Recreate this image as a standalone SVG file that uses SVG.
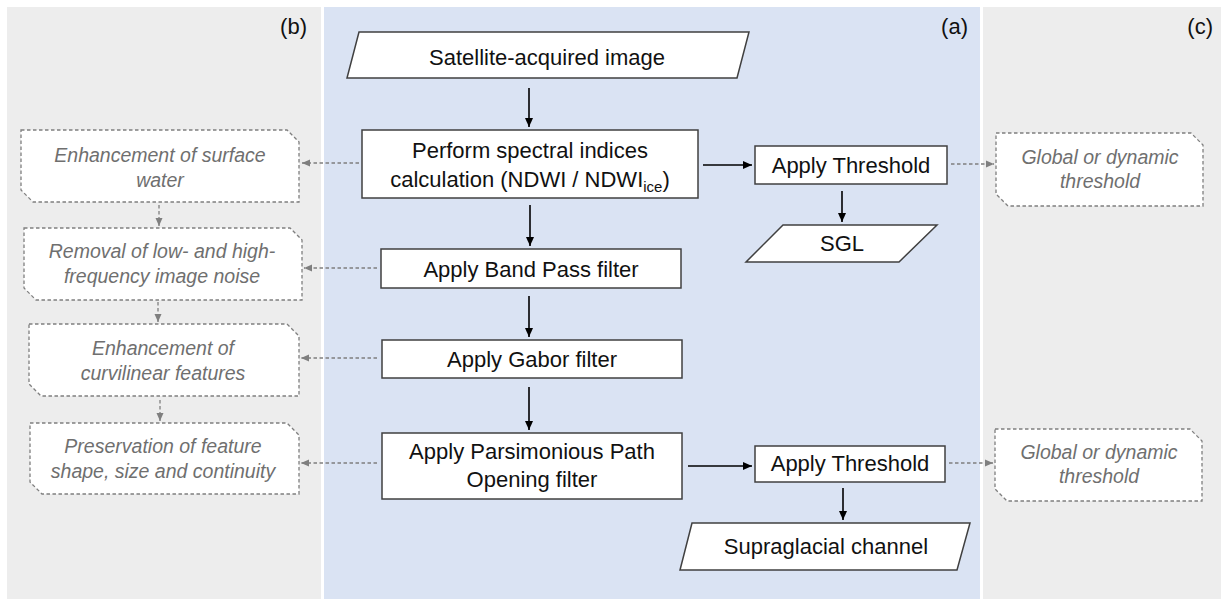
<svg xmlns="http://www.w3.org/2000/svg" width="1221" height="599" viewBox="0 0 1221 599">
<style>
.main{font-family:"Liberation Sans",Arial,sans-serif;font-size:22px;fill:#111;text-anchor:middle}
.note{font-family:"Liberation Sans",Arial,sans-serif;font-size:19.5px;font-style:italic;fill:#6f6f6f;text-anchor:middle}
.lab{font-family:"Liberation Sans",Arial,sans-serif;font-size:22px;fill:#111}
.box{fill:#fff;stroke:#404040;stroke-width:1.5}
.nbox{fill:#fff;stroke:#7f7f7f;stroke-width:1.3;stroke-dasharray:3.5 2.5}
.ar{stroke:#000;stroke-width:1.6;fill:none;marker-end:url(#ah)}
.da{stroke:#7f7f7f;stroke-width:1.3;stroke-dasharray:3.5 2.5;fill:none;marker-end:url(#dh)}
</style>
<defs>
<marker id="ah" markerUnits="userSpaceOnUse" markerWidth="10" markerHeight="10" viewBox="0 0 10 10" refX="9" refY="5" orient="auto"><path d="M0,1 L9,5 L0,9 Z" fill="#000"/></marker>
<marker id="dh" markerUnits="userSpaceOnUse" markerWidth="9" markerHeight="9" viewBox="0 0 9 9" refX="8" refY="4.5" orient="auto"><path d="M0,1 L8,4.5 L0,8 Z" fill="#7f7f7f"/></marker>
</defs>
<rect width="1221" height="599" fill="#fff"/>
<g id="panels">
<rect x="7" y="7" width="314" height="592" fill="#ededed"/>
<rect x="324" y="7" width="656" height="592" fill="#dae3f3"/>
<rect x="983" y="7" width="238" height="592" fill="#ededed"/>
<text class="lab" x="307" y="34" text-anchor="end">(b)</text>
<text class="lab" x="968" y="34" text-anchor="end">(a)</text>
<text class="lab" x="1213" y="34" text-anchor="end">(c)</text>
</g>
<g id="connectors">
<line class="ar" x1="529" y1="88" x2="529" y2="127"/>
<line class="ar" x1="530" y1="205" x2="530" y2="246"/>
<line class="ar" x1="529" y1="296" x2="529" y2="337"/>
<line class="ar" x1="529" y1="387" x2="529" y2="430"/>
<line class="ar" x1="703" y1="165" x2="752" y2="165"/>
<line class="ar" x1="842" y1="191" x2="842" y2="222"/>
<line class="ar" x1="688" y1="466" x2="752" y2="466"/>
<line class="ar" x1="843" y1="488" x2="843" y2="520"/>
<line class="da" x1="359" y1="163" x2="302" y2="163"/>
<line class="da" x1="377" y1="268" x2="304" y2="268"/>
<line class="da" x1="377" y1="358" x2="301" y2="358"/>
<line class="da" x1="377" y1="463" x2="301" y2="463"/>
<line class="da" x1="951" y1="164" x2="994" y2="164"/>
<line class="da" x1="949" y1="463" x2="993" y2="463"/>
<line class="da" x1="159" y1="205" x2="159" y2="226"/>
<line class="da" x1="158" y1="302" x2="158" y2="322"/>
<line class="da" x1="160" y1="400" x2="160" y2="421"/>
</g>
<g id="satellite">
<path class="box" d="M359,32 H749 L737,78 H347 Z"/>
<text class="main" x="547" y="65">Satellite-acquired image</text>
</g>
<g id="spectral">
<rect class="box" x="362" y="130" width="336" height="68"/>
<text class="main" x="530" y="158">Perform spectral indices</text>
<text class="main" x="530" y="187">calculation (NDWI / NDWI<tspan font-size="15" dy="5">ice</tspan><tspan dy="-5">)</tspan></text>
</g>
<g id="bandpass">
<rect class="box" x="381" y="249" width="300" height="39"/>
<text class="main" x="531" y="277">Apply Band Pass filter</text>
</g>
<g id="gabor">
<rect class="box" x="382" y="340" width="300" height="38"/>
<text class="main" x="532" y="367">Apply Gabor filter</text>
</g>
<g id="ppo">
<rect class="box" x="382" y="433" width="300" height="66"/>
<text class="main" x="532" y="459">Apply Parsimonious Path</text>
<text class="main" x="532" y="487">Opening filter</text>
</g>
<g id="threshold1">
<rect class="box" x="755" y="146" width="192" height="38"/>
<text class="main" x="851" y="173">Apply Threshold</text>
</g>
<g id="sgl">
<path class="box" d="M783,225 H937 L899,262 H746 Z"/>
<text class="main" x="842" y="251">SGL</text>
</g>
<g id="threshold2">
<rect class="box" x="755" y="446" width="190" height="36"/>
<text class="main" x="850" y="471">Apply Threshold</text>
</g>
<g id="channel">
<path class="box" d="M692,523 H970 L957,570 H680 Z"/>
<text class="main" x="826" y="554">Supraglacial channel</text>
</g>
<g id="note1">
<path class="nbox" d="M21,130 H287 L299,142 V202 H33 L21,190 Z"/>
<text class="note" x="160" y="162">Enhancement of surface</text>
<text class="note" x="160" y="187">water</text>
</g>
<g id="note2">
<path class="nbox" d="M24,228 H290 L302,240 V300 H36 L24,288 Z"/>
<text class="note" x="162" y="258">Removal of low- and high-</text>
<text class="note" x="162" y="283">frequency image noise</text>
</g>
<g id="note3">
<path class="nbox" d="M29,324 H287 L299,336 V396 H41 L29,384 Z"/>
<text class="note" x="163" y="355">Enhancement of</text>
<text class="note" x="163" y="380">curvilinear features</text>
</g>
<g id="note4">
<path class="nbox" d="M30,423 H287 L299,435 V494 H42 L30,482 Z"/>
<text class="note" x="163" y="453">Preservation of feature</text>
<text class="note" x="163" y="478">shape, size and continuity</text>
</g>
<g id="note5">
<path class="nbox" d="M996,133 H1191 L1203,145 V206 H1008 L996,194 Z"/>
<text class="note" x="1100" y="164">Global or dynamic</text>
<text class="note" x="1100" y="188">threshold</text>
</g>
<g id="note6">
<path class="nbox" d="M995,429 H1190 L1202,441 V501 H1007 L995,489 Z"/>
<text class="note" x="1099" y="459">Global or dynamic</text>
<text class="note" x="1099" y="483">threshold</text>
</g>
</svg>
